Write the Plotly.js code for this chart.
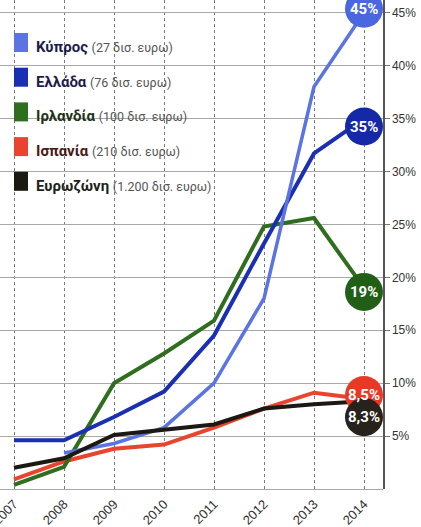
<!DOCTYPE html>
<html>
<head>
<meta charset="utf-8">
<script src="https://cdn.plot.ly/plotly-3.0.1.min.js"></script>
<style>
html,body{margin:0;padding:0;background:#fff;}
#chart{width:421px;height:527px;}
</style>
</head>
<body>
<div id="chart"></div>
<script>
// ---- data ----
var years = [2007, 2008, 2009, 2010, 2011, 2012, 2013, 2014];
var cyprus   = [null, 3.4, 4.3, 5.8, 10.0, 18.0, 38.0, 45];
var greece   = [4.6, 4.6, 6.8, 9.2, 14.5, 23.2, 31.7, 35];
var ireland  = [0.4, 2.1, 10.0, 12.8, 15.9, 24.8, 25.6, 19];
var spain    = [0.9, 2.6, 3.8, 4.2, 5.8, 7.6, 9.1, 8.5];
var eurozone = [2.0, 2.9, 5.1, 5.6, 6.1, 7.6, 8.0, 8.3];

var names   = ["Κύπρος", "Ελλάδα", "Ιρλανδία", "Ισπανία", "Ευρωζώνη"];
var amounts = ["(27 δισ. ευρω)", "(76 δισ. ευρω)", "(100 δισ. ευρω)", "(210 δισ. ευρω)", "(1.200 δισ. ευρω)"];
var endLabels = ["45%", "35%", "19%", "8,5%", "8,3%"];
var yTicks = [5, 10, 15, 20, 25, 30, 35, 40, 45];
var yTickText = ["5%", "10%", "15%", "20%", "25%", "30%", "35%", "40%", "45%"];

// ---- styles ----
var series = [cyprus, greece, ireland, spain, eurozone];
var colors = ["#5b74e2", "#1b2fb3", "#2f6e1e", "#e8442e", "#1c1812"];
var badgeColors = ["#4a67e0", "#1529a8", "#225f16", "#e63a26", "#27221c"];
var nameColors = ["#1d1d4a", "#1d1d4a", "#1e3318", "#4a1a14", "#1d241a"];
var widths = [3.5, 4, 4, 4, 4];
var badgeShift = [4, -8, -4, 4, -16];
var drawOrder = [3, 2, 1, 0, 4];

var traces = drawOrder.map(function (i) {
  return {
    x: years, y: series[i], type: "scatter", mode: "lines",
    line: {color: colors[i], width: widths[i]},
    connectgaps: false, hoverinfo: "skip", showlegend: false
  };
});

var shapes = [];
var annotations = [];
var R = 19;
[0, 1, 2, 3, 4].forEach(function (i) {
  var last = series[i][series[i].length - 1];
  var lx = years[years.length - 1];
  shapes.push({
    type: "circle", xref: "x", yref: "y",
    xsizemode: "pixel", ysizemode: "pixel",
    xanchor: lx, yanchor: last,
    x0: -R, x1: R, y0: badgeShift[i] - R, y1: badgeShift[i] + R,
    fillcolor: badgeColors[i], line: {width: 0}, layer: "above"
  });
  annotations.push({
    x: lx, y: last, xref: "x", yref: "y",
    yshift: badgeShift[i], showarrow: false,
    text: "<b>" + endLabels[i] + "</b>",
    font: {family: "Roboto, 'Liberation Sans', sans-serif", size: 15, color: "#ffffff"}
  });
});

// legend built from names/amounts
var rowTop = 47, rowGap = 34.7, H = 527, W = 421;
names.forEach(function (n, i) {
  var cy = rowTop + i * rowGap;
  shapes.push({
    type: "rect", xref: "paper", yref: "paper",
    x0: 14 / 383, x1: 28 / 383,
    y0: 1 - (cy + 5) / 489, y1: 1 - (cy - 14) / 489,
    fillcolor: colors[i], line: {width: 0}, layer: "above"
  });
  annotations.push({
    xref: "paper", yref: "paper", x: 34 / 383, y: 1 - cy / 489,
    xanchor: "left", yanchor: "middle", showarrow: false, align: "left",
    text: "<b>" + n + "</b> <span style='color:#555;font-size:12.5px;font-weight:normal'>" + amounts[i] + "</span>",
    font: {family: "Roboto, 'Liberation Sans', sans-serif", size: 15, color: nameColors[i]}
  });
});

var layout = {
  width: W, height: H,
  margin: {l: 0, r: 38, t: 0, b: 38, pad: 0},
  paper_bgcolor: "#ffffff", plot_bgcolor: "#ffffff",
  showlegend: false,
  xaxis: {
    range: [2006.72, 2014.38],
    tickvals: years, ticktext: years.map(String),
    tickangle: -45, ticklabeloverflow: "allow", ticklabelstandoff: 4,
    showgrid: true, gridcolor: "#7a7a7a", gridwidth: 1, griddash: "3px,3px",
    zeroline: false, showline: false, ticks: "",
    tickfont: {family: "'Liberation Sans', Arial, sans-serif", size: 13, color: "#333"}
  },
  yaxis: {
    range: [0, 46.2], side: "right",
    tickvals: yTicks, ticktext: yTickText,
    showgrid: true, gridcolor: "#a8a8a8", gridwidth: 1,
    zeroline: true, zerolinecolor: "#a8a8a8", zerolinewidth: 1,
    showline: true, linecolor: "#555", linewidth: 1.5, mirror: false,
    ticks: "outside", ticklen: 5, tickcolor: "#777",
    tickfont: {family: "'Liberation Sans', Arial, sans-serif", size: 12, color: "#333"}
  },
  shapes: shapes,
  annotations: annotations
};

Plotly.newPlot("chart", traces, layout, {displayModeBar: false, staticPlot: true});
</script>
</body>
</html>
